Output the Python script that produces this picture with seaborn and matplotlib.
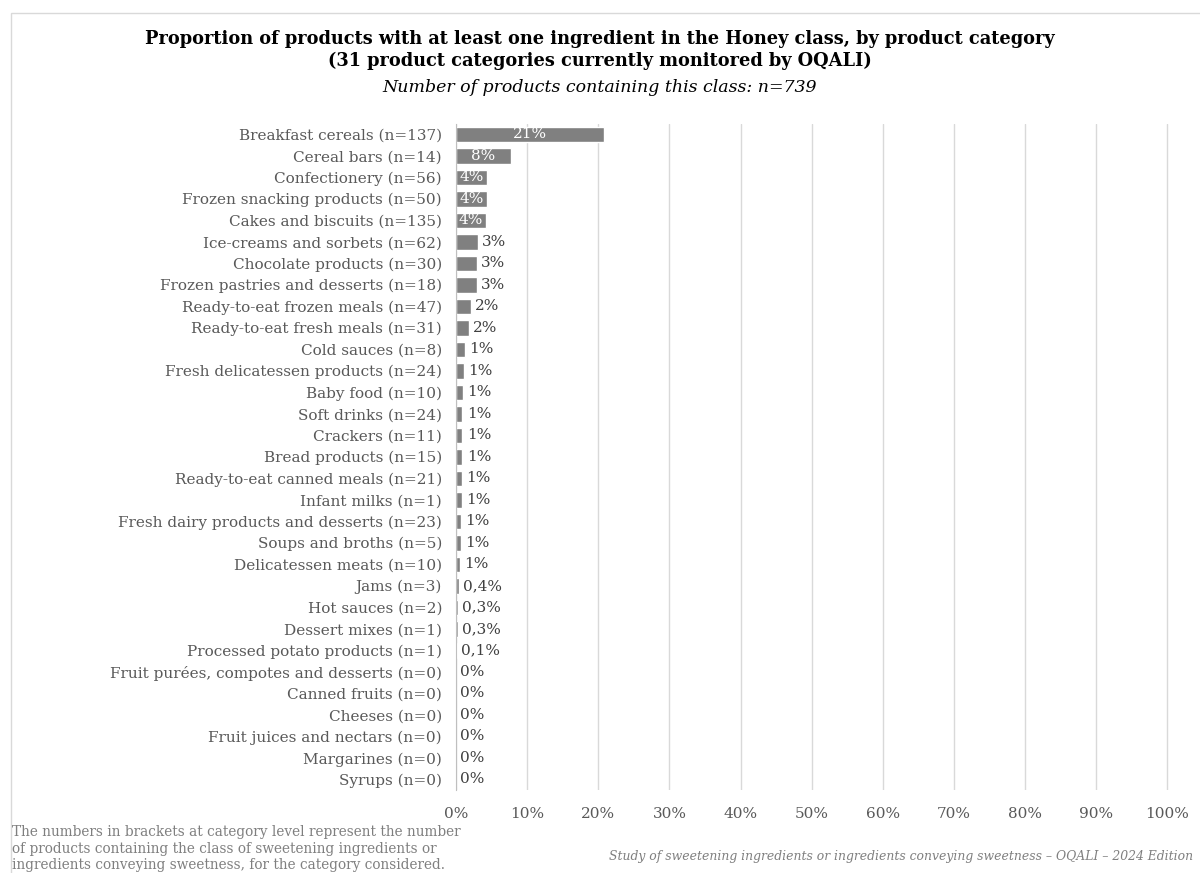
import numpy as np
import pandas as pd
import seaborn as sns
import matplotlib.pyplot as plt
from matplotlib.patches import Rectangle

# Data
categories = [
    "Breakfast cereals (n=137)", "Cereal bars (n=14)", "Confectionery (n=56)",
    "Frozen snacking products (n=50)", "Cakes and biscuits (n=135)",
    "Ice-creams and sorbets (n=62)", "Chocolate products (n=30)",
    "Frozen pastries and desserts (n=18)", "Ready-to-eat frozen meals (n=47)",
    "Ready-to-eat fresh meals (n=31)", "Cold sauces (n=8)",
    "Fresh delicatessen products (n=24)", "Baby food (n=10)", "Soft drinks (n=24)",
    "Crackers (n=11)", "Bread products (n=15)", "Ready-to-eat canned meals (n=21)",
    "Infant milks (n=1)", "Fresh dairy products and desserts (n=23)",
    "Soups and broths (n=5)", "Delicatessen meats (n=10)", "Jams (n=3)",
    "Hot sauces (n=2)", "Dessert mixes (n=1)", "Processed potato products (n=1)",
    "Fruit purées, compotes and desserts (n=0)", "Canned fruits (n=0)",
    "Cheeses (n=0)", "Fruit juices and nectars (n=0)", "Margarines (n=0)",
    "Syrups (n=0)",
]
shares = [20.8, 7.7, 4.4, 4.3, 4.2, 3.1, 2.9, 2.9, 2.1, 1.8, 1.3, 1.1, 1.0, 0.9,
          0.9, 0.9, 0.8, 0.8, 0.7, 0.7, 0.6, 0.4, 0.3, 0.3, 0.1, 0, 0, 0, 0, 0, 0]
labels = ["21%", "8%", "4%", "4%", "4%", "3%", "3%", "3%", "2%", "2%", "1%", "1%",
          "1%", "1%", "1%", "1%", "1%", "1%", "1%", "1%", "1%", "0,4%", "0,3%",
          "0,3%", "0,1%", "0%", "0%", "0%", "0%", "0%", "0%"]

df = pd.DataFrame({"category": categories, "share": shares, "label": labels})

sns.set_style("white")
plt.rcParams['font.family'] = ['DejaVu Serif']

fig = plt.figure(figsize=(12, 8.73), dpi=100)
ax = fig.add_axes([0.38, 0.095, 0.594, 0.7635])

sns.barplot(data=df, x="share", y="category", color="#808080", saturation=1,
            width=0.72, ax=ax)

ax.set_xlim(0, 100.2)
ax.set_xticks(np.arange(0, 101, 10))
ax.set_xticklabels(["{}%".format(t) for t in range(0, 101, 10)])
ax.xaxis.grid(True, color="#d9d9d9", linewidth=1)
ax.set_axisbelow(True)
for s in ["top", "right", "bottom"]:
    ax.spines[s].set_visible(False)
ax.spines["left"].set_color("#bfbfbf")
ax.tick_params(axis="both", length=0, labelcolor="#595959")
ax.tick_params(axis="y", labelsize=11, pad=10)
ax.tick_params(axis="x", labelsize=11, pad=12)
ax.set_xlabel("")
ax.set_ylabel("")

# Value labels
for i, (v, lab) in enumerate(zip(shares, labels)):
    if v >= 4:
        ax.text(v / 2, i, lab, ha="center", va="center", color="white", fontsize=11)
    else:
        ax.text(v + 0.6, i, lab, ha="left", va="center", color="#404040", fontsize=11)

# Titles
fig.text(0.5, 0.943, "Proportion of products with at least one ingredient in the Honey class, by product category\n(31 product categories currently monitored by OQALI)",
         ha="center", va="center", fontsize=12.8, fontweight="bold", color="black", linespacing=1.25)
fig.text(0.5, 0.900, "Number of products containing this class: n=739",
         ha="center", va="center", fontsize=12.5, style="italic", color="black")

# Footer notes
fig.text(0.01, 0.055, "The numbers in brackets at category level represent the number\nof products containing the class of sweetening ingredients or\ningredients conveying sweetness, for the category considered.",
         ha="left", va="top", fontsize=9.8, color="#7f7f7f", linespacing=1.25)
fig.text(0.994, 0.012, "Study of sweetening ingredients or ingredients conveying sweetness – OQALI – 2024 Edition",
         ha="right", va="bottom", fontsize=8.9, style="italic", color="#7f7f7f")

# Chart frame
fig.patches.append(Rectangle((0.009, -0.05), 1.2, 1.035, transform=fig.transFigure,
                             fill=False, edgecolor="#d9d9d9", linewidth=1))

fig.savefig("out.png", dpi=100)
